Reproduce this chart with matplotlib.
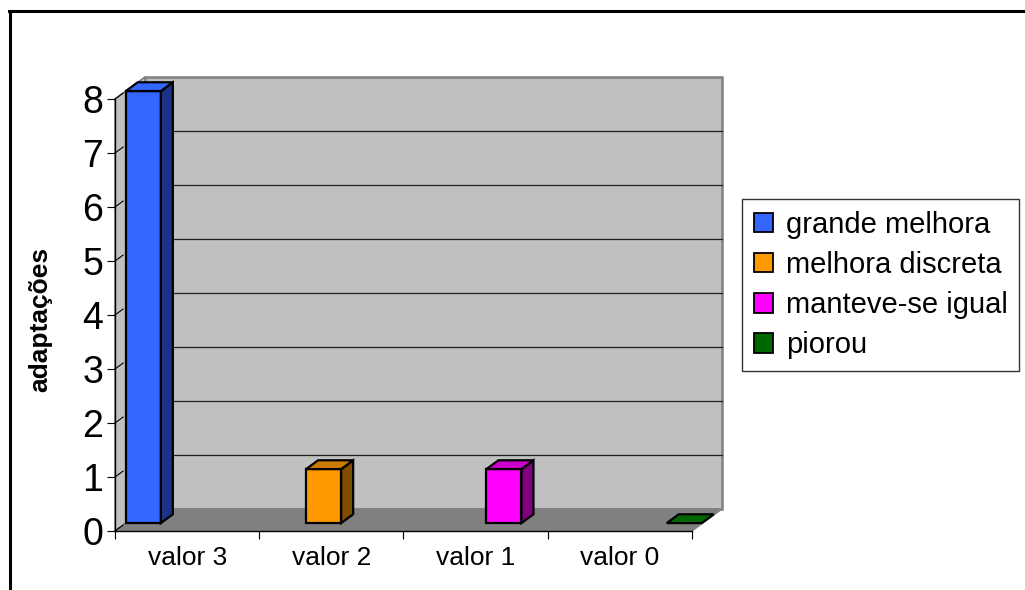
import matplotlib
matplotlib.use("Agg")
import matplotlib.pyplot as plt
from matplotlib.patches import Polygon, Patch
from matplotlib.lines import Line2D
import numpy as np

plt.rcParams['font.family'] = ['Liberation Sans', 'DejaVu Sans']

# Data: one series per category (blank cells as NaN)
categories = ["valor 3", "valor 2", "valor 1", "valor 0"]
series_names = ["grande melhora", "melhora discreta", "manteve-se igual", "piorou"]
series_values = [
    [8, np.nan, np.nan, np.nan],
    [np.nan, 1, np.nan, np.nan],
    [np.nan, np.nan, 1, np.nan],
    [np.nan, np.nan, np.nan, 0],
]
y_ticks = [0, 1, 2, 3, 4, 5, 6, 7, 8]

# face colours: front, side, top
front_colors = ["#3366FF", "#FF9900", "#FF00FF", "#006600"]
side_colors = ["#1A3385", "#804D00", "#800080", "#003300"]
top_colors = ["#3366FF", "#CC7A00", "#CC00CC", "#006600"]

W, H = 1025, 590
fig = plt.figure(figsize=(W / 100, H / 100), dpi=100)
# front plane of the 3D box
ax = fig.add_axes([115 / W, (H - 531) / H, 577 / W, 432 / H])
ax.set_xlim(0, len(categories))
ax.set_ylim(0, 8)
ax.patch.set_visible(False)

# depth offset (full depth) in data units
DX = 30 / (577 / len(categories))
DY = 22 / (432 / 8)


def proj(x, y, d):
    return (x + d * DX, y + d * DY)


def poly(pts, fc, ec, lw=1.0, z=1):
    ax.add_patch(Polygon(pts, closed=True, facecolor=fc, edgecolor=ec,
                         linewidth=lw, zorder=z, clip_on=False))


n = len(categories)
ymax = y_ticks[-1]
# back wall
poly([proj(0, 0, 1), proj(n, 0, 1), proj(n, ymax, 1), proj(0, ymax, 1)],
     "#C0C0C0", "#808080", lw=1.8, z=0.5)
# left side wall
poly([proj(0, 0, 0), proj(0, 0, 1), proj(0, ymax, 1), proj(0, ymax, 0)],
     "#C0C0C0", "#808080", lw=1.2, z=0.5)
# floor
poly([proj(0, 0, 0), proj(n, 0, 0), proj(n, 0, 1), proj(0, 0, 1)],
     "#808080", "#808080", lw=1.0, z=0.6)

# gridlines on back wall
for v in y_ticks[1:-1]:
    x0, y0 = proj(0, v, 1)
    x1, y1 = proj(n, v, 1)
    ax.plot([x0, x1], [y0, y1], color="#202020", lw=0.9, zorder=0.7, clip_on=False)

# short depth ticks on the side wall
for v in y_ticks:
    x0, y0 = proj(0, v, 0)
    x1, y1 = proj(0, v, 0.27)
    ax.plot([x0, x1], [y0, y1], color="#000000", lw=0.8, zorder=0.8, clip_on=False)

# bars
w = 0.243
d0, d1 = 0.36, 0.76
for i, vals in enumerate(series_values):
    for j, v in enumerate(vals):
        if np.isnan(v):
            continue
        xl = j + i * 0.25
        xr = xl + w
        if v > 0:
            poly([proj(xl, 0, d0), proj(xr, 0, d0), proj(xr, v, d0), proj(xl, v, d0)],
                 front_colors[i], "black", lw=1.6, z=3)
            poly([proj(xr, 0, d0), proj(xr, 0, d1), proj(xr, v, d1), proj(xr, v, d0)],
                 side_colors[i], "black", lw=1.6, z=3)
        poly([proj(xl, v, d0), proj(xr, v, d0), proj(xr, v, d1), proj(xl, v, d1)],
             top_colors[i], "black", lw=1.6, z=3)

# axes
for s in ["top", "right"]:
    ax.spines[s].set_visible(False)
ax.spines["left"].set_linewidth(1.0)
ax.spines["bottom"].set_linewidth(1.0)
ax.spines["left"].set_zorder(2)
ax.spines["bottom"].set_zorder(2)
ax.set_yticks(y_ticks)
ax.set_yticklabels([str(t) for t in y_ticks], fontsize=27)
ax.tick_params(axis="y", direction="out", length=5.5, width=0.8, pad=3)
ax.set_xticks(np.arange(n + 1))
ax.set_xticklabels([])
ax.set_xticks(np.arange(n) + 0.5, minor=True)
ax.set_xticklabels(categories, minor=True, fontsize=19)
ax.tick_params(axis="x", which="major", direction="out", length=5.5, width=0.8)
ax.tick_params(axis="x", which="minor", length=0, pad=11)

fig.text(40 / W, 1 - 319 / H, "adaptações", rotation=90, fontsize=19,
         fontweight="bold", ha="center", va="center")

handles = [Patch(facecolor=c, edgecolor="black", linewidth=1.3) for c in front_colors]
leg = fig.legend(handles, series_names, loc="center left",
                 bbox_to_anchor=(742 / W, 1 - 285 / H), fontsize=21,
                 frameon=True, fancybox=False, edgecolor="black",
                 handlelength=0.65, handleheight=0.65, handletextpad=0.45,
                 labelspacing=0.42, borderpad=0.4, borderaxespad=0)
leg.get_frame().set_linewidth(1.0)

# outer chart border (cropped on right and bottom)
fig.add_artist(Line2D([9.5 / W, 9.5 / W], [0, 1 - 11 / H], color="black", lw=2.2,
                      transform=fig.transFigure))
fig.add_artist(Line2D([8.5 / W, 1], [1 - 11 / H, 1 - 11 / H], color="black", lw=2.2,
                      transform=fig.transFigure))

fig.savefig("out.png", dpi=100, facecolor="white")
